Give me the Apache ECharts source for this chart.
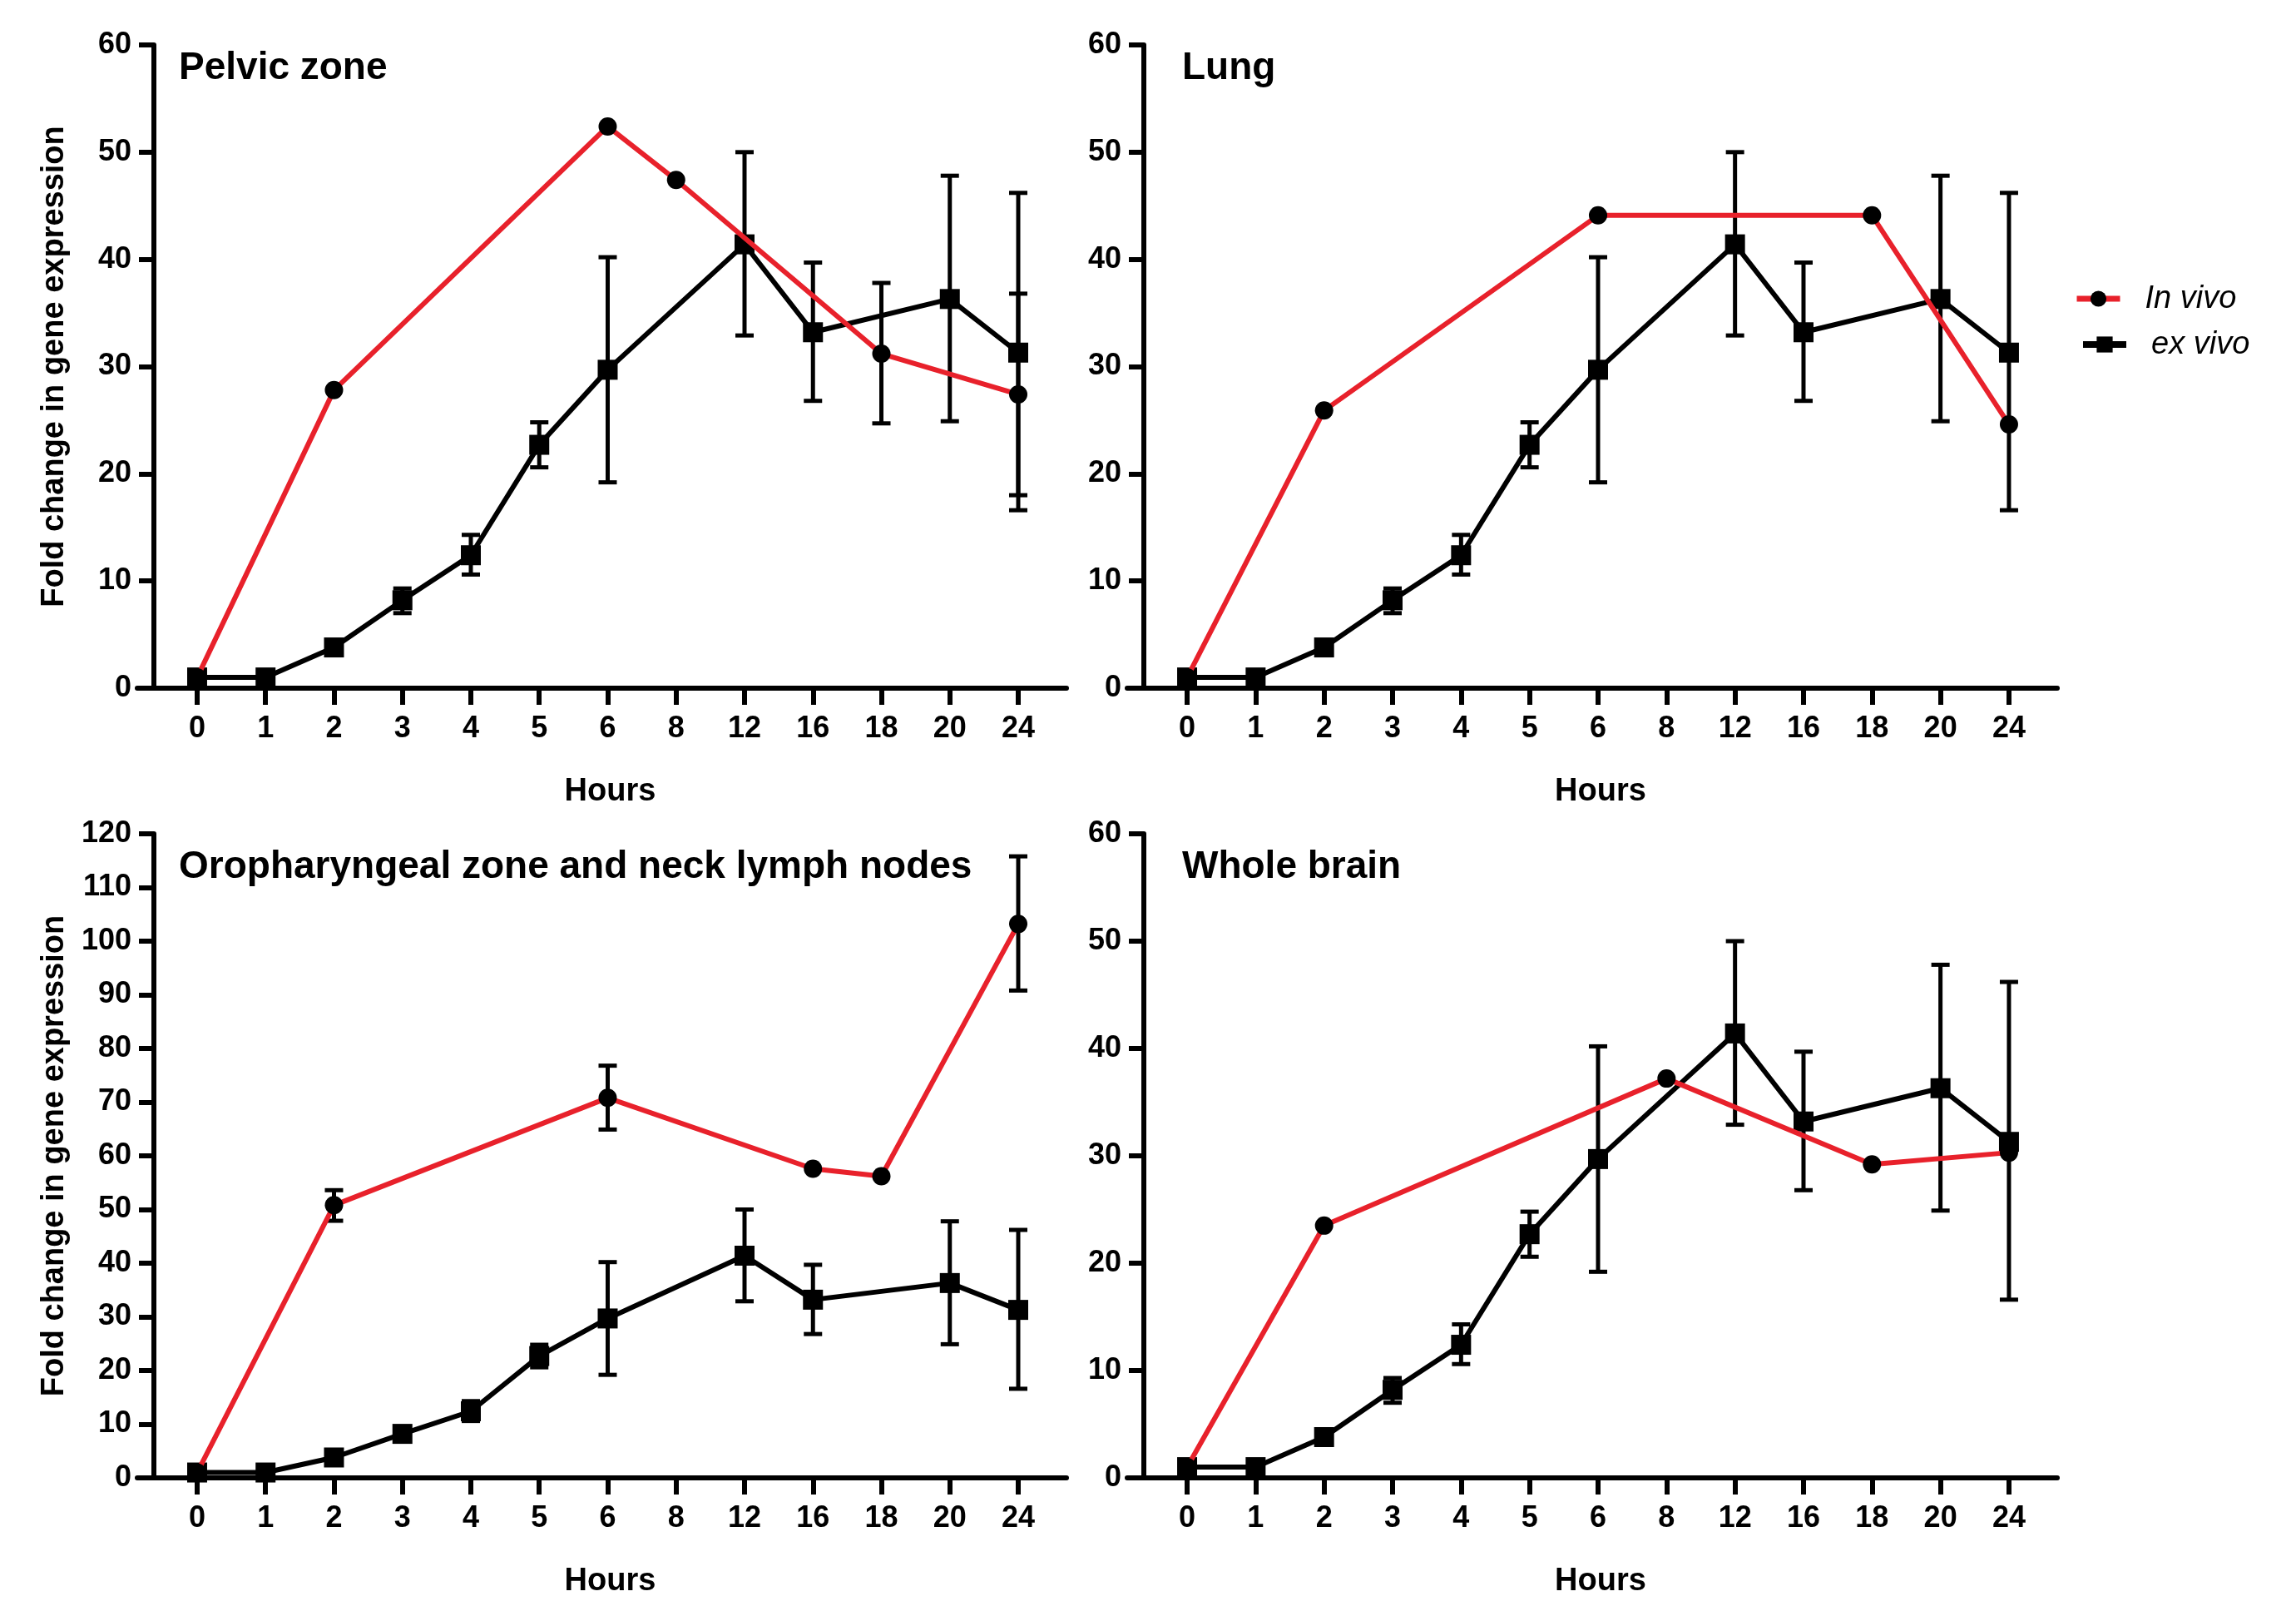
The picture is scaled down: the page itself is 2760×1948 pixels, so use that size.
<!DOCTYPE html>
<html><head><meta charset="utf-8">
<script src="https://cdn.jsdelivr.net/npm/echarts@6/dist/echarts.min.js"></script>
<style>html,body{margin:0;padding:0;background:#fff}#c{width:2760px;height:1948px}</style>
</head><body><div id="c"></div>
<script>
// ---- data ----
const hours = ['0','1','2','3','4','5','6','8','12','16','18','20','24'];
const exVivo    = [1.0, 1.0, 3.8, 8.2, 12.4, 22.7, 29.7, null, 41.4, 33.2, null, 36.3, 31.3];
const exVivoErr = [null, null, [3.3,4.3], [7.0,9.3], [10.6,14.3], [20.6,24.8], [19.2,40.2], null, [32.9,50.0], [26.8,39.7], null, [24.9,47.8], [16.6,46.2]];

const pelvicInVivo    = [1.0, null, 27.8, null, null, null, 52.4, 47.4, null, null, 31.2, null, 27.4];
const pelvicInVivoErr = [null, null, null, null, null, null, null, null, null, null, [24.7,37.8], null, [18.0,36.8]];

const lungInVivo    = [1.0, null, 25.9, null, null, null, 44.1, null, null, null, 44.1, null, 24.6];
const lungInVivoErr = [null, null, null, null, null, null, null, null, null, null, null, null, null];

const oroInVivo    = [1.0, null, 50.8, null, null, null, 70.8, null, null, 57.6, 56.2, null, 103.2];
const oroInVivoErr = [null, null, [47.9,53.6], null, null, null, [64.9,76.8], null, null, null, null, null, [90.8,115.8]];

const brainInVivo    = [1.0, null, 23.5, null, null, null, null, 37.2, null, null, 29.2, null, 30.3];
const brainInVivoErr = [null, null, null, null, null, null, null, null, null, null, null, null, null];

const panelTitles = ['Pelvic zone', 'Lung', 'Oropharyngeal zone and neck lymph nodes', 'Whole brain'];
const panelInVivo = [pelvicInVivo, lungInVivo, oroInVivo, brainInVivo];
const panelInVivoErr = [pelvicInVivoErr, lungInVivoErr, oroInVivoErr, brainInVivoErr];
const panelYMax = [60, 60, 120, 60];

// ---- layout ----
const FONT = "'Liberation Sans', Arial, sans-serif";
const layout = [
  {left:165, top:54, width:1117, height:773, yName:true},
  {left:1355, top:54, width:1118, height:773, yName:false},
  {left:165, top:1002, width:1117, height:774, yName:true},
  {left:1355, top:1002, width:1118, height:774, yName:false}
];
const titlePos = [{left:215, top:59}, {left:1421, top:59}, {left:215, top:1019}, {left:1421, top:1019}];

const idx = hours.map((h,i)=>i);
function pairs(arr){ return arr.map((v,i)=> v==null ? null : [i, v]).filter(Boolean); }
function errData(arr){ return arr.map((e,i)=> e ? [i, e[0], e[1]] : null).filter(Boolean); }

function errSeries(gi, err){
  return {
    type:'custom', xAxisIndex:gi, yAxisIndex:gi, z:2, silent:true, animation:false,
    encode:{x:0, y:[1,2]},
    data: errData(err),
    renderItem(params, api){
      const x = api.value(0);
      const lo = api.coord([x, api.value(1)]);
      const hi = api.coord([x, api.value(2)]);
      const w = 11;
      const st = {stroke:'#000', lineWidth:5};
      return {type:'group', children:[
        {type:'line', shape:{x1:lo[0], y1:lo[1], x2:hi[0], y2:hi[1]}, style:st},
        {type:'line', shape:{x1:lo[0]-w, y1:lo[1], x2:lo[0]+w, y2:lo[1]}, style:st},
        {type:'line', shape:{x1:hi[0]-w, y1:hi[1], x2:hi[0]+w, y2:hi[1]}, style:st}
      ]};
    }
  };
}

const grids = [], xAxes = [], yAxes = [], series = [], titles = [];
layout.forEach((L, gi) => {
  grids.push({left:L.left, top:L.top, width:L.width, height:L.height, containLabel:false});
  titles.push({text:panelTitles[gi], left:titlePos[gi].left, top:titlePos[gi].top, padding:0,
    textStyle:{fontSize:46, fontWeight:'bold', color:'#000', fontFamily:FONT}});
  xAxes.push({
    type:'value', gridIndex:gi, min:-0.875, max:12.705,
    axisLine:{show:true, onZero:false, lineStyle:{color:'#000', width:6}},
    axisTick:{show:true, length:20, customValues:idx, lineStyle:{color:'#000', width:6}},
    axisLabel:{show:true, customValues:idx, formatter:(v)=>hours[Math.round(v)], margin:31,
      fontSize:36, fontWeight:'bold', color:'#000', fontFamily:FONT},
    splitLine:{show:false},
    name:'Hours', nameLocation:'middle', nameGap:106,
    nameTextStyle:{fontSize:38, fontWeight:'bold', color:'#000', fontFamily:FONT, padding:[0,0,0,20]}
  });
  yAxes.push({
    type:'value', gridIndex:gi, min:0, max:panelYMax[gi], interval:10, offset:-20,
    axisLine:{show:true, onZero:false, lineStyle:{color:'#000', width:6}},
    axisTick:{show:true, length:18, lineStyle:{color:'#000', width:6}},
    axisLabel:{margin:27, fontSize:36, fontWeight:'bold', color:'#000', fontFamily:FONT},
    splitLine:{show:false},
    name: L.yName ? 'Fold change in gene expression' : '',
    nameLocation:'middle', nameGap:100,
    nameTextStyle:{fontSize:38, fontWeight:'bold', color:'#000', fontFamily:FONT}
  });
  series.push(errSeries(gi, exVivoErr));
  series.push(errSeries(gi, panelInVivoErr[gi]));
  series.push({
    type:'line', name:'ex vivo', xAxisIndex:gi, yAxisIndex:gi, data:pairs(exVivo),
    symbol:'rect', symbolSize:24, showAllSymbol:true, z:3, animation:false,
    itemStyle:{color:'#000'}, lineStyle:{color:'#000', width:6}
  });
  series.push({
    type:'line', name:'In vivo', xAxisIndex:gi, yAxisIndex:gi, data:pairs(panelInVivo[gi]),
    symbol:'circle', symbolSize:22, showAllSymbol:true, z:4, animation:false,
    itemStyle:{color:'#000'}, lineStyle:{color:'#e8212b', width:6}
  });
});

const legendText = {fontSize:38, fontStyle:'italic', color:'#000', fontFamily:FONT, padding:[0,0,0,25]};
const option = {
  backgroundColor:'#fff',
  animation:false,
  title: titles,
  grid: grids, xAxis: xAxes, yAxis: yAxes, series: series,
  legend: [
    {data:['In vivo'], left:2493, top:340, orient:'vertical', itemWidth:52, itemHeight:24, padding:0,
     lineStyle:{width:7}, textStyle:legendText, selectedMode:false},
    {data:['ex vivo'], left:2500, top:395, orient:'vertical', itemWidth:52, itemHeight:24, padding:0,
     lineStyle:{width:8}, textStyle:legendText, selectedMode:false}
  ]
};
const chart = echarts.init(document.getElementById('c'), null, {renderer:'canvas'});
chart.setOption(option);
</script></body></html>
